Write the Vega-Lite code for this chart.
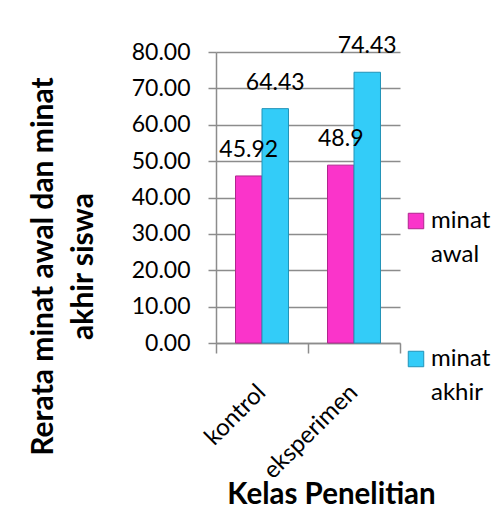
{
  "$schema": "https://vega.github.io/schema/vega-lite/v6.json",
  "width": 184,
  "height": 291,
  "autosize": {"type": "none"},
  "padding": {"left": 216, "top": 52, "right": 98, "bottom": 169},
  "background": "white",
  "config": {"font": "Lato", "view": {"stroke": null}},
  "data": {"values": [
    {"kelas": "kontrol", "seri": "minat awal", "nilai": 45.92},
    {"kelas": "kontrol", "seri": "minat akhir", "nilai": 64.43},
    {"kelas": "eksperimen", "seri": "minat awal", "nilai": 48.9},
    {"kelas": "eksperimen", "seri": "minat akhir", "nilai": 74.43}
  ]},
  "encoding": {
    "x": {
      "field": "kelas", "type": "nominal", "sort": ["kontrol", "eksperimen"],
      "scale": {"paddingInner": 0, "paddingOuter": 0},
      "axis": {
        "tickBand": "extent", "ticks": true, "tickSize": 10, "tickColor": "#8c8c8c", "tickWidth": 1.5,
        "domainColor": "#8c8c8c", "domainWidth": 1.5,
        "labelAngle": -45, "labelAlign": "right", "labelBaseline": "top", "labelPadding": 27, "labelOffset": -9,
        "labelFontSize": 24, "labelColor": "black", "labelFont": "Lato",
        "title": "Kelas Penelitian", "titleFontSize": 29.5, "titleFontWeight": "bold", "titleColor": "black",
        "titleX": 115, "titleY": 160, "titleBaseline": "alphabetic", "titleAlign": "center"
      }
    },
    "xOffset": {"field": "seri", "sort": ["minat awal", "minat akhir"], "scale": {"paddingInner": 0, "paddingOuter": 0.736}},
    "y": {
      "field": "nilai", "type": "quantitative",
      "scale": {"domain": [0, 80], "nice": false},
      "axis": {
        "values": [0, 10, 20, 30, 40, 50, 60, 70, 80], "format": ".2f",
        "grid": true, "gridColor": "#8c8c8c", "gridWidth": 1.5,
        "tickSize": 8, "tickColor": "#8c8c8c", "tickWidth": 1.5,
        "domainColor": "#8c8c8c", "domainWidth": 1.5,
        "labelFontSize": 23, "labelColor": "black", "labelPadding": 18,
        "title": ["Rerata minat awal dan minat", "akhir siswa"],
        "titleFontSize": 30, "titleFontWeight": "bold", "titleColor": "black",
        "titleAngle": -90, "titleX": -164, "titleY": 214, "titleBaseline": "alphabetic", "titleAlign": "center", "titleLineHeight": 40
      }
    }
  },
  "layer": [
    {
      "mark": {"type": "bar", "strokeWidth": 1},
      "encoding": {
        "color": {
          "field": "seri", "type": "nominal",
          "scale": {"domain": ["minat awal", "minat akhir"], "range": ["#FA34CA", "#33CCF8"]},
          "legend": {
            "orient": "none", "legendX": 188, "legendY": 157, "title": null,
            "symbolType": "square", "symbolSize": 240, "symbolStrokeColor": "#555", "symbolStrokeWidth": 1,
            "labelFontSize": 24, "labelColor": "black", "labelOffset": 3, "labelLimit": 300,
            "labelExpr": "split(datum.label, ' ')", "labelBaseline": "alphabetic",
            "rowPadding": 80,
            "encoding": {"labels": {"lineHeight": {"value": 34}, "dy": {"value": 7}, "fontSize": {"value": 24}}}
          }
        },
        "stroke": {
          "field": "seri", "type": "nominal",
          "scale": {"domain": ["minat awal", "minat akhir"], "range": ["#B0268E", "#2293B8"]},
          "legend": null
        }
      }
    },
    {
      "mark": {"type": "text", "fontSize": 23, "baseline": "alphabetic", "align": "center", "dy": -19, "color": "black"},
      "encoding": {"text": {"field": "nilai", "type": "nominal"}}
    }
  ]
}
